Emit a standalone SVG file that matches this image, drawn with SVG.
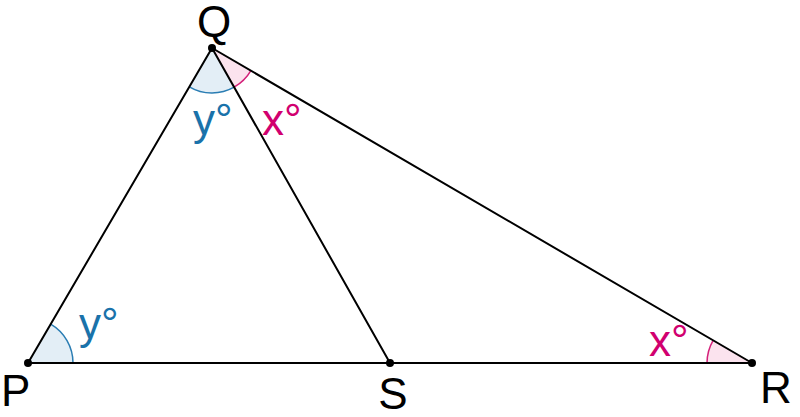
<svg xmlns="http://www.w3.org/2000/svg" width="800" height="417" viewBox="0 0 800 417">
<style>
.lbl{font-family:"Liberation Sans",Arial,sans-serif;font-size:44px;fill:#000}
.ang{font-family:"Liberation Sans",Arial,sans-serif;font-size:44px}
.b{fill:#1a72aa}.p{fill:#d1006f}
.fb{fill:#e3eef6;stroke:none}.fp{fill:#fbe3ee;stroke:none}
.ab{fill:none;stroke:#2a7db3;stroke-width:1.5}.ap{fill:none;stroke:#d4217a;stroke-width:1.5}
.edge{stroke:#000;stroke-width:2;fill:none;stroke-linecap:round}
.dot{fill:#000}
</style>
<rect width="800" height="417" fill="#fff"/>
<g id="angles">
<path class="fb" d="M212,48 L189.3,86.86 A45,45 0 0 0 234.14,87.18 Z"/>
<path class="ab" d="M189.3,86.86 A45,45 0 0 0 234.14,87.18"/>
<path class="fp" d="M212,48 L234.14,87.18 A45,45 0 0 0 250.87,70.67 Z"/>
<path class="ap" d="M234.14,87.18 A45,45 0 0 0 250.87,70.67"/>
<path class="fb" d="M28,363 L73,363 A45,45 0 0 0 50.7,324.14 Z"/>
<path class="ab" d="M73,363 A45,45 0 0 0 50.7,324.14"/>
<path class="fp" d="M752,363 L707,363 A45,45 0 0 1 713.13,340.33 Z"/>
<path class="ap" d="M707,363 A45,45 0 0 1 713.13,340.33"/>
</g>
<g id="connectors">
<line class="edge" x1="28" y1="363" x2="752" y2="363"/>
<line class="edge" x1="212" y1="48" x2="28" y2="363"/>
<line class="edge" x1="212" y1="48" x2="390" y2="363"/>
<line class="edge" x1="212" y1="48" x2="752" y2="363"/>
</g>
<g id="node-Q"><circle class="dot" cx="212" cy="48" r="4"/><text class="lbl" x="214" y="37" text-anchor="middle">Q</text></g>
<g id="node-P"><circle class="dot" cx="28" cy="363" r="4"/><text class="lbl" x="1" y="406">P</text></g>
<g id="node-S"><circle class="dot" cx="390" cy="363" r="4"/><text class="lbl" x="393" y="409" text-anchor="middle">S</text></g>
<g id="node-R"><circle class="dot" cx="752" cy="363" r="4"/><text class="lbl" x="760" y="403">R</text></g>
<g id="labels">
<text class="ang b" x="193" y="135">y°</text>
<text class="ang p" x="262" y="135">x°</text>
<text class="ang b" x="79" y="339">y°</text>
<text class="ang p" x="649" y="356">x°</text>
</g>
</svg>
